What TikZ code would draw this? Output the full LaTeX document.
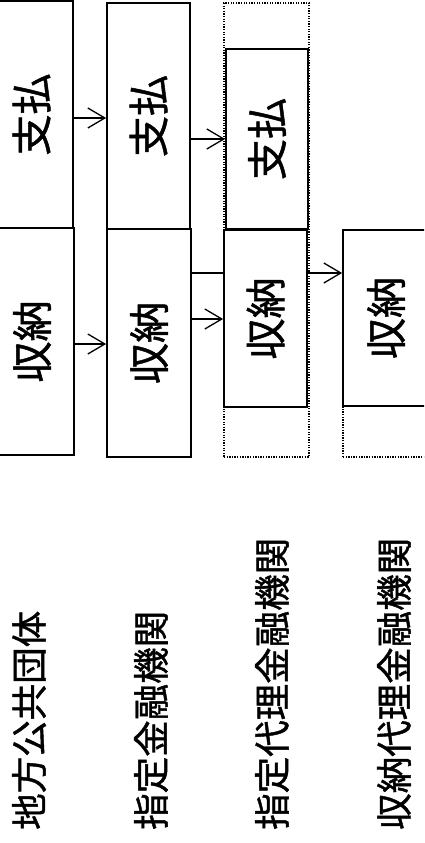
\documentclass[tikz,border=0pt]{standalone}
\usepackage{fontspec}
\setmainfont{Noto Sans CJK JP}
\newfontfamily\medfont{Noto Sans CJK JP}[FakeBold=1.2]
\usepackage{graphicx}
\usetikzlibrary{arrows.meta}
\begin{document}
\begin{tikzpicture}[x=1pt,y=-1pt,
  box/.style={draw, line width=1.8pt, inner sep=0pt, font=\fontsize{41}{41}\medfont},
  dotbox/.style={draw, line width=1.3pt, dash pattern=on 1.3pt off 1.3pt, inner sep=0pt},
  arr/.style={line width=1.3pt, -{Straight Barb[length=17pt,width=20pt,line width=1.3pt]}},
  lnk/.style={line width=1.3pt},
  lab/.style={rotate=90, anchor=west, inner sep=0pt, font=\fontsize{36.5}{36.5}\medfont}]
\useasboundingbox (0,0) rectangle (424,843);
\clip (0,0) rectangle (424,843);
\fill[white] (0,0) rectangle (424,843);
% dotted outer frames
\node[dotbox, minimum width=85pt, minimum height=454pt] (d3) at (266.5,230) {};
\node[dotbox, minimum width=87pt, minimum height=227pt] (d4) at (386.5,343.5) {};
% solid boxes
\node[box, minimum width=83pt, minimum height=227pt] (s1) at (31.5,114.5) {\rotatebox{90}{支払}};
\node[box, minimum width=84pt, minimum height=227pt] (r1) at (32,341.5) {\rotatebox{90}{収納}};
\node[box, minimum width=83pt, minimum height=226pt] (s2) at (148.5,116) {\rotatebox{90}{支払}};
\node[box, minimum width=84pt, minimum height=228pt] (r2) at (149,343) {\rotatebox{90}{収納}};
\node[box, minimum width=82pt, minimum height=180pt] (s3) at (267,139) {\rotatebox{90}{支払}};
\node[box, minimum width=83pt, minimum height=177pt] (r3) at (265.5,318.5) {\rotatebox{90}{収納}};
\node[box, minimum width=86pt, minimum height=176pt] (r4) at (386,318) {\rotatebox{90}{収納}};
% connectors
\draw[arr] (s1.east |- 0,118) -- (s2.west |- 0,118);
\draw[arr] (r1.east |- 0,344) -- (r2.west |- 0,344);
\draw[arr] (s2.east |- 0,139) -- (s3.west |- 0,139);
\draw[lnk] (r2.east |- 0,273) -- (r3.west |- 0,273);
\draw[arr] (r2.east |- 0,319) -- (r3.west |- 0,319);
\draw[arr] (r3.east |- 0,273) -- (r4.west |- 0,273);
% labels
\node[lab] (l1) at (29,830) {地方公共団体};
\node[lab] (l2) at (151,830) {指定金融機関};
\node[lab] (l3) at (272,830) {指定代理金融機関};
\node[lab] (l4) at (394,830) {収納代理金融機関};
\end{tikzpicture}
\end{document}
